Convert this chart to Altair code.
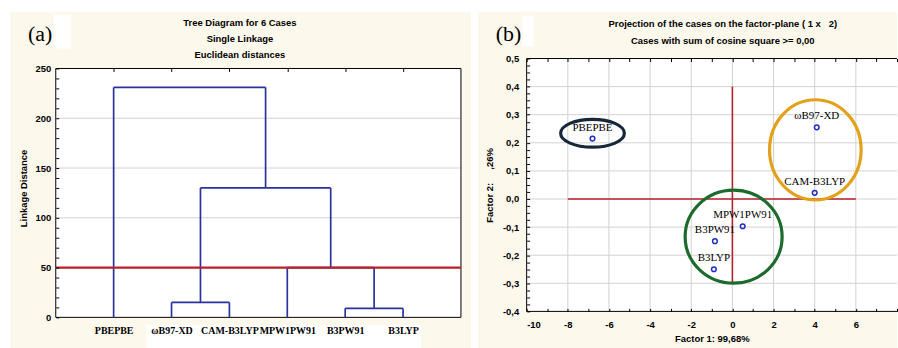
import altair as alt
import pandas as pd

# ---------------- data : (a) dendrogram ----------------
leaves = ["PBEPBE", "ωB97-XD", "CAM-B3LYP", "MPW1PW91", "B3PW91", "B3LYP"]
merge_left = ["ωB97-XD", "B3PW91", "MPW1PW91", "C1", "PBEPBE"]
merge_right = ["CAM-B3LYP", "B3LYP", "C2", "C3", "C4"]
merge_height = [15, 9, 50, 130, 231]
cut_level = [50]
grid_a = [50, 100, 150, 200]
frame_a_x = [0, 7]
frame_a_y = [0, 250]
title_a = ["Tree Diagram for 6 Cases", "Single Linkage", "Euclidean distances"]

# ---------------- data : (b) factor plane ----------------
case_names = ["PBEPBE", "ωB97-XD", "CAM-B3LYP", "MPW1PW91", "B3PW91", "B3LYP"]
factor1 = [-6.8, 4.1, 4.0, 0.5, -0.85, -0.9]
factor2 = [0.215, 0.255, 0.022, -0.097, -0.15, -0.25]
cross_x = [0.0, -8.0]
cross_x2 = [0.0, 6.0]
cross_y = [-0.3, 0.0]
cross_y2 = [0.4, 0.0]
grid_bx = [-8, -6, -4, -2, 0, 2, 4, 6]
grid_by = [-0.3, -0.2, -0.1, 0.0, 0.1, 0.2, 0.3, 0.4]
frame_b_x = [-10, 8]
frame_b_y = [-0.4, 0.5]
group_names = ["PBEPBE", "ωB97-XD / CAM-B3LYP", "MPW1PW91 / B3PW91 / B3LYP"]
group_cx = [-6.8, 4.03, 0.06]
group_cy = [0.234, 0.175, -0.134]
NB = "\u00a0"
title_b = [f"Projection of the cases on the factor-plane ({NB}1{NB}x{NB}{NB}{NB}2)",
           "Cases with sum of cosine square >= 0,00"]
ytitle_b = f"Factor 2:{NB*5},26%"

# ---------------- styles ----------------
SANS = "Liberation Sans"
SERIF = "Liberation Serif"
BLUE = "#2B329C"
RED = "#B8212B"
PT_BLUE = "#1F2FC4"
GRID = "#D2D2D2"
ELL_COLORS = ["#17273A", "#E3A11B", "#1D6B2C"]
ELL_RX = [32, 46, 48.7]
ELL_RY = [14, 50.3, 46.7]
CREAM = "#FCF8EC"


def ellipse_path(rx, ry):
    r = ry / rx
    k = 0.5523
    return (f"M 1 0 C 1 {k*r:.4f} {k:.4f} {r:.4f} 0 {r:.4f} "
            f"C {-k:.4f} {r:.4f} -1 {k*r:.4f} -1 0 "
            f"C -1 {-k*r:.4f} {-k:.4f} {-r:.4f} 0 {-r:.4f} "
            f"C {k:.4f} {-r:.4f} 1 {-k*r:.4f} 1 0 Z")


def text_layer(txt, px, py, size=9.5, font=SANS, weight="bold", align="center"):
    return alt.Chart(pd.DataFrame({"t": [txt]})).mark_text(
        font=font, fontSize=size, fontWeight=weight, align=align, baseline="middle",
        color="black").encode(text="t:N", x=alt.value(px), y=alt.value(py))


def panel_rect(x1, x2, y1, y2, color):
    """decorative background card (pixel offsets relative to the plot origin)"""
    return alt.Chart(pd.DataFrame({"k": [0]})).mark_rect(fill=color).encode(
        x=alt.value(x1), x2=alt.value(x2), y=alt.value(y1), y2=alt.value(y2))


def frame_rules(fx, fy, xs, ys, sides):
    rows = []
    if "bottom" in sides:
        rows.append({"x": fx[0], "x2": fx[1], "y": fy[0], "y2": fy[0]})
    if "top" in sides:
        rows.append({"x": fx[0], "x2": fx[1], "y": fy[1], "y2": fy[1]})
    if "left" in sides:
        rows.append({"x": fx[0], "x2": fx[0], "y": fy[0], "y2": fy[1]})
    if "right" in sides:
        rows.append({"x": fx[1], "x2": fx[1], "y": fy[0], "y2": fy[1]})
    return alt.Chart(pd.DataFrame(rows)).mark_rule(color="black", strokeWidth=1).encode(
        x=alt.X("x:Q", scale=xs, axis=None), x2="x2:Q",
        y=alt.Y("y:Q", scale=ys, axis=None), y2="y2:Q")


def white_plot(fx, fy, xs, ys, yaxis):
    return alt.Chart(pd.DataFrame({"x": [fx[0]], "x2": [fx[1]], "y": [fy[0]], "y2": [fy[1]]})).mark_rect(
        fill="white").encode(x=alt.X("x:Q", scale=xs, axis=None), x2="x2:Q",
                             y=alt.Y("y:Q", scale=ys, axis=yaxis), y2="y2:Q")


# ---------------- build dendrogram segments ----------------
pos = {n: i + 1 for i, n in enumerate(leaves)}
hgt = {n: 0 for n in leaves}
vert, horiz = [], []
for k, (l, r, h) in enumerate(zip(merge_left, merge_right, merge_height)):
    for c in (l, r):
        vert.append({"x": pos[c], "x2": pos[c], "y": hgt[c], "y2": h})
    horiz.append({"x": pos[l], "x2": pos[r], "y": h, "y2": h})
    name = f"C{k+1}"
    pos[name] = (pos[l] + pos[r]) / 2
    hgt[name] = h
vert_df = pd.DataFrame(vert)
horiz_df = pd.DataFrame(horiz)

# panel (a) is 10 px taller than its frame so both plot areas share a top edge
xa = alt.Scale(domain=[0, 7], nice=False, zero=False)
ya = alt.Scale(domain=[0, 260], nice=False)
label_arr = "[" + ",".join(f"'{n}'" for n in leaves) + "]"

ax_a_bottom = alt.Axis(orient="bottom", values=list(range(1, 7)),
                       labelExpr=f"{label_arr}[datum.value-1]", tickSize=0,
                       domain=False, grid=False, labelFont=SERIF, labelFontSize=10,
                       labelFontWeight="bold", labelPadding=8, labelAngle=0,
                       labelOverlap=False, labelBound=False, title=None, zindex=1)
ax_a_top = alt.Axis(orient="top", values=list(range(1, 7)), labels=False, tickSize=3,
                    offset=-13, domain=False, grid=False, title=None, zindex=1)
ax_a_left = alt.Axis(orient="left", values=list(range(0, 251, 10)),
                     labelExpr="datum.value % 50 === 0 ? '' + datum.value : ''",
                     tickSize=3, offset=-3, domain=False, grid=False, labelOverlap=False,
                     labelPadding=5, title="Linkage Distance", titlePadding=7, zindex=1)

card_a = panel_rect(-46, 417, -47, 291, CREAM)
label_strip_a = panel_rect(91, 367, 268, 291, "white")
tagbox_a = panel_rect(-2, 15, -44, -10, "white")
bg_a = white_plot(frame_a_x, frame_a_y, xa, ya, ax_a_left)
grid_a_layer = alt.Chart(pd.DataFrame({"g": grid_a})).mark_rule(color=GRID, strokeWidth=1).encode(
    y=alt.Y("g:Q", scale=ya, axis=None))
frame_a = frame_rules(frame_a_x, frame_a_y, xa, ya, ["bottom", "top", "left", "right"])

vlayer = alt.Chart(vert_df).mark_rule(color=BLUE, strokeWidth=1.7).encode(
    x=alt.X("x:Q", scale=xa, axis=ax_a_bottom), x2="x2:Q",
    y=alt.Y("y:Q", scale=ya, axis=None), y2="y2:Q")
hlayer = alt.Chart(horiz_df).mark_rule(color=BLUE, strokeWidth=1.7).encode(
    x=alt.X("x:Q", scale=xa, axis=ax_a_top), x2="x2:Q",
    y=alt.Y("y:Q", scale=ya, axis=None), y2="y2:Q")
cut = alt.Chart(pd.DataFrame({"c": cut_level})).mark_rule(color=RED, strokeWidth=2.2).encode(
    y=alt.Y("c:Q", scale=ya, axis=None))

texts_a = [text_layer(t, 185, -36 + 16 * i) for i, t in enumerate(title_a)]
texts_a.append(text_layer("(a)", -28, -25, size=22, font=SERIF, weight="normal", align="left"))

panel_a = alt.layer(card_a, label_strip_a, tagbox_a, bg_a, grid_a_layer, frame_a, vlayer, hlayer,
                    cut, *texts_a).resolve_axis(
    x="independent", y="independent").properties(
    width=407, height=260,
    view=alt.ViewBackground(fill="transparent", stroke="transparent"))

# ---------------- panel (b) ----------------
pts = pd.DataFrame({"name": case_names, "f1": factor1, "f2": factor2})
cross = pd.DataFrame({"x": cross_x, "x2": cross_x2, "y": cross_y, "y2": cross_y2})
groups = pd.DataFrame({"g": group_names, "cx": group_cx, "cy": group_cy})

xb = alt.Scale(domain=frame_b_x, nice=False, zero=False)
yb = alt.Scale(domain=frame_b_y, nice=False, zero=False)

ax_b_bottom = alt.Axis(orient="bottom", values=list(range(-10, 9)),
                       labelExpr="datum.value % 2 === 0 && datum.value < 8 ? '' + datum.value : ''",
                       tickSize=3, offset=-3, domain=False, grid=False, labelPadding=8,
                       labelOverlap=False, title="Factor 1: 99,68%", titlePadding=5, zindex=1)
ax_b_top = alt.Axis(orient="top", values=list(range(-10, 9)), labels=False, tickSize=3,
                    offset=-3, domain=False, grid=False, title=None, zindex=1)
yvals = [round(-0.4 + 0.025 * k, 3) for k in range(37)]
major_test = "abs(datum.value*10 - round(datum.value*10)) < 0.001"
ax_b_left = alt.Axis(orient="left", values=yvals,
                     labelExpr=f"{major_test} ? (datum.value < -0.0001 ? '-' : '') + replace(format(abs(datum.value), '.1f'), '.', ',') : ''",
                     tickSize=3, offset=-3, domain=False, grid=False, labelPadding=8,
                     labelOverlap=False, title=ytitle_b, titlePadding=8, zindex=1)

card_b = panel_rect(-49, 372, -47, 291, CREAM)
tagbox_b = panel_rect(-4, 7, -43, -12, "white")
bg_b = white_plot(frame_b_x, frame_b_y, xb, yb, ax_b_left)
frame_b = frame_rules(frame_b_x, frame_b_y, xb, yb, ["bottom", "top", "left"])
gridx_layer = alt.Chart(pd.DataFrame({"g": grid_bx})).mark_rule(color=GRID, strokeWidth=1).encode(
    x=alt.X("g:Q", scale=xb, axis=ax_b_bottom))
gridy_layer = alt.Chart(pd.DataFrame({"g": grid_by})).mark_rule(color=GRID, strokeWidth=1).encode(
    y=alt.Y("g:Q", scale=yb, axis=None))

cross_layer = alt.Chart(cross).mark_rule(color=RED, strokeWidth=1.6).encode(
    x=alt.X("x:Q", scale=xb, axis=ax_b_top), x2="x2:Q",
    y=alt.Y("y:Q", scale=yb, axis=None), y2="y2:Q")

ell_layers = []
for i in range(3):
    ell_layers.append(
        alt.Chart(groups.iloc[[i]]).mark_point(
            shape=ellipse_path(ELL_RX[i], ELL_RY[i]), size=(2 * ELL_RX[i]) ** 2,
            filled=False, stroke=ELL_COLORS[i], strokeWidth=3.2, opacity=1).encode(
            x=alt.X("cx:Q", scale=xb, axis=None), y=alt.Y("cy:Q", scale=yb, axis=None)))

pt_layer = alt.Chart(pts).mark_point(shape="circle", filled=False, size=22, strokeWidth=1.5,
                                     color=PT_BLUE, opacity=1).encode(
    x=alt.X("f1:Q", scale=xb, axis=None),
    y=alt.Y("f2:Q", scale=yb, axis=None))
lbl_layer = alt.Chart(pts).mark_text(font=SERIF, fontSize=11, dy=-11, color="black").encode(
    x=alt.X("f1:Q", scale=xb, axis=None), y=alt.Y("f2:Q", scale=yb, axis=None), text="name:N")

texts_b = [text_layer(t, 197, -35 + 17 * i) for i, t in enumerate(title_b)]
texts_b.append(text_layer("(b)", -31, -25, size=22, font=SERIF, weight="normal", align="left"))

panel_b = alt.layer(card_b, tagbox_b, bg_b, gridx_layer, gridy_layer, frame_b, cross_layer,
                    *ell_layers, pt_layer, lbl_layer, *texts_b).resolve_axis(
    x="independent", y="independent").properties(
    width=372, height=254,
    view=alt.ViewBackground(fill="transparent", stroke="transparent"))

chart = alt.hconcat(panel_a, panel_b, spacing=5).properties(
    padding={"left": 9, "top": 10, "right": 0, "bottom": 0},
    background="white",
).configure_axis(
    labelFont=SANS, labelFontSize=9.5, labelFontWeight="bold", labelColor="black",
    titleFont=SANS, titleFontSize=9.5, titleFontWeight="bold", titleColor="black",
    tickColor="black", domainColor="black")

chart.save("out.html", embed_options={"renderer": "svg", "actions": False})
